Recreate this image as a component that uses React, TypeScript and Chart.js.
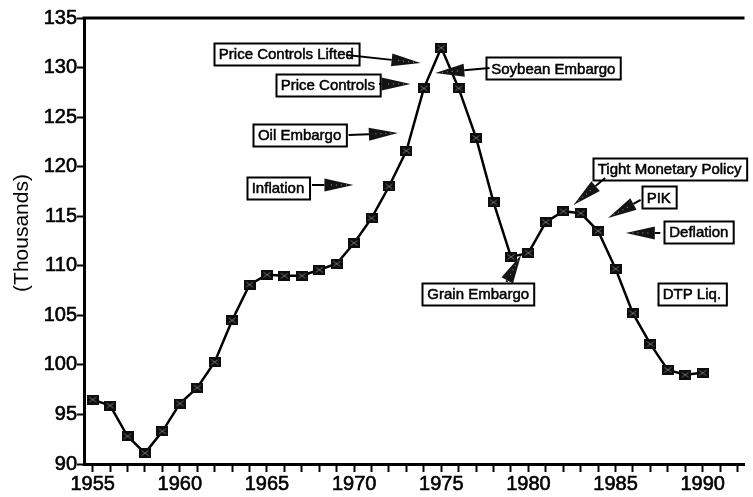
import React, { useEffect, useRef } from 'react';
import { Chart, registerables } from 'chart.js';

Chart.register(...registerables);

// ---- data ----
const years = [
  1955, 1956, 1957, 1958, 1959, 1960, 1961, 1962, 1963, 1964,
  1965, 1966, 1967, 1968, 1969, 1970, 1971, 1972, 1973, 1974,
  1975, 1976, 1977, 1978, 1979, 1980, 1981, 1982, 1983, 1984,
  1985, 1986, 1987, 1988, 1989, 1990,
];
const values = [
  96.5, 95.9, 92.8, 91.1, 93.3, 96.1, 97.7, 100.3, 104.5, 108.1,
  109.1, 109.0, 109.0, 109.6, 110.2, 112.3, 114.8, 118.0, 121.6, 127.9,
  132.0, 127.9, 122.9, 116.4, 110.9, 111.3, 114.4, 115.5, 115.3, 113.5,
  109.7, 105.2, 102.1, 99.5, 99.0, 99.2,
];
const xLabelYears = [1955, 1960, 1965, 1970, 1975, 1980, 1985, 1990];
const xFirstTick = 1955;
const xLastTick = 1992;
const yTicks = [90, 95, 100, 105, 110, 115, 120, 125, 130, 135];
const yTitle = '(Thousands)';

// annotation boxes: centre in data units, optional arrow (from -> tip) in data units
const annotations = [
  { text: 'Price Controls Lifted', x: 1966.11, y: 131.37, from: [1969.56, 131.27], to: [1973.81, 130.46] },
  { text: 'Price Controls', x: 1968.49, y: 128.24, from: [1971.43, 128.35], to: [1973.24, 128.35] },
  { text: 'Oil Embargo', x: 1966.87, y: 123.2, from: [1969.68, 123.2], to: [1972.51, 123.4] },
  { text: 'Inflation', x: 1965.63, y: 117.85, from: [1967.58, 118.15], to: [1969.96, 118.15] },
  { text: 'Soybean Embargo', x: 1981.43, y: 129.91, from: [1977.77, 129.96], to: [1974.66, 129.45] },
  { text: 'Tight Monetary Policy', x: 1988.1, y: 119.77, from: [1984.4, 118.86], to: [1982.59, 116.14] },
  { text: 'PIK', x: 1987.48, y: 116.89, from: [1986.44, 116.64], to: [1984.57, 114.82] },
  { text: 'Deflation', x: 1989.78, y: 113.41, from: [1987.57, 113.31], to: [1985.59, 113.31] },
  { text: 'Grain Embargo', x: 1977.12, y: 107.15, from: [1978.74, 108.37], to: [1979.58, 111.09] },
  { text: 'DTP Liq.', x: 1989.38, y: 107.2, from: null, to: null },
];

const FONT = '"Liberation Sans", Arial, Helvetica, sans-serif';

function makeMarker(): HTMLCanvasElement {
  const c = document.createElement('canvas');
  c.width = 12;
  c.height = 10;
  const g = c.getContext('2d')!;
  g.fillStyle = '#0d0d0d';
  g.fillRect(0, 0, 12, 10);
  g.strokeStyle = '#6e6e6e';
  g.lineWidth = 1;
  g.beginPath();
  g.moveTo(2.5, 2.5);
  g.lineTo(9.5, 7.5);
  g.moveTo(9.5, 2.5);
  g.lineTo(2.5, 7.5);
  g.stroke();
  return c;
}

function drawArrow(ctx: CanvasRenderingContext2D, x1: number, y1: number, x2: number, y2: number) {
  const dx = x2 - x1;
  const dy = y2 - y1;
  const d = Math.hypot(dx, dy) || 1;
  const ux = dx / d;
  const uy = dy / d;
  const L = Math.min(29, d);
  const hw = 6.5;
  const bx = x2 - ux * L;
  const by = y2 - uy * L;
  ctx.strokeStyle = '#000';
  ctx.lineWidth = 2;
  if (d > L + 0.5) {
    ctx.beginPath();
    ctx.moveTo(x1, y1);
    ctx.lineTo(bx, by);
    ctx.stroke();
  }
  ctx.fillStyle = '#141414';
  ctx.beginPath();
  ctx.moveTo(x2, y2);
  ctx.lineTo(bx - uy * hw, by + ux * hw);
  ctx.lineTo(bx + uy * hw, by - ux * hw);
  ctx.closePath();
  ctx.fill();
  // dotted hatch look
  ctx.fillStyle = '#9a9a9a';
  for (let t = 7; t < L - 6; t += 5) {
    const px = bx + ux * t;
    const py = by + uy * t;
    ctx.fillRect(px - 0.5, py - 0.5, 1, 1);
  }
}

const notesPlugin = {
  id: 'notes',
  afterDatasetsDraw(chart: any) {
    const { ctx, chartArea, scales } = chart;
    const xs = scales.x;
    const ys = scales.y;
    ctx.save();
    // top frame line
    ctx.strokeStyle = '#000';
    ctx.lineWidth = 3;
    ctx.beginPath();
    ctx.moveTo(chartArea.left - 1.5, chartArea.top);
    ctx.lineTo(chartArea.right, chartArea.top);
    ctx.stroke();

    // boxes
    ctx.font = '15px ' + FONT;
    ctx.textAlign = 'center';
    ctx.textBaseline = 'middle';
    const boxH = 22;
    annotations.forEach((a) => {
      const cx = xs.getPixelForValue(a.x);
      const cy = ys.getPixelForValue(a.y);
      const w = ctx.measureText(a.text).width + 10;
      const left = Math.round(cx - w / 2) + 0.5;
      const top = Math.round(cy - boxH / 2) + 0.5;
      ctx.fillStyle = '#fff';
      ctx.fillRect(left, top, w, boxH);
      ctx.strokeStyle = '#000';
      ctx.lineWidth = 2;
      ctx.strokeRect(left, top, w, boxH);
      ctx.fillStyle = '#000';
      ctx.fillText(a.text, cx, cy + 1);
      ctx.lineWidth = 0.5;
      ctx.strokeText(a.text, cx, cy + 1);
    });
    // arrows
    annotations.forEach((a) => {
      if (!a.from || !a.to) return;
      drawArrow(
        ctx,
        xs.getPixelForValue(a.from[0]),
        ys.getPixelForValue(a.from[1]),
        xs.getPixelForValue(a.to[0]),
        ys.getPixelForValue(a.to[1])
      );
    });

    // y axis title
    ctx.translate(chartArea.left - 62, (chartArea.top + chartArea.bottom) / 2 - 8);
    ctx.rotate(-Math.PI / 2);
    ctx.font = '21px ' + FONT;
    ctx.fillStyle = '#000';
    ctx.textAlign = 'center';
    ctx.textBaseline = 'middle';
    ctx.fillText(yTitle, 0, 0);
    ctx.restore();
  },
};

export default function App() {
  const ref = useRef<HTMLCanvasElement | null>(null);

  useEffect(() => {
    document.body.style.margin = '0';
    const canvas = ref.current;
    if (!canvas) return;
    const marker = makeMarker();
    const chart = new Chart(canvas, {
      type: 'line',
      data: {
        datasets: [
          {
            data: years.map((yr, i) => ({ x: yr, y: values[i] })),
            borderColor: '#000',
            borderWidth: 2.5,
            pointStyle: marker as any,
            pointRadius: 6,
            tension: 0,
            fill: false,
          },
        ],
      },
      options: {
        animation: false,
        responsive: false,
        devicePixelRatio: 1,
        layout: { padding: { top: 18, left: 0, right: 0, bottom: 0 } },
        plugins: {
          legend: { display: false },
          tooltip: { enabled: false },
          title: { display: false },
        },
        scales: {
          x: {
            type: 'linear',
            min: 1954.5,
            max: 1992.4,
            afterBuildTicks: (scale: any) => {
              const t = [];
              for (let v = xFirstTick; v <= xLastTick; v++) t.push({ value: v });
              scale.ticks = t;
            },
            afterFit: (scale: any) => {
              scale.height = 33;
            },
            border: { display: true, color: '#000', width: 3 },
            grid: {
              display: true,
              drawOnChartArea: false,
              drawTicks: true,
              tickLength: 8,
              tickColor: '#000',
              tickWidth: 2,
              color: '#000',
            },
            ticks: {
              autoSkip: false,
              maxRotation: 0,
              padding: 0,
              color: '#000',
              textStrokeColor: '#000',
              textStrokeWidth: 0.6,
              font: { family: FONT, size: 20 },
              callback: (v: any) => (xLabelYears.includes(Number(v)) ? String(v) : ''),
            },
          },
          y: {
            type: 'linear',
            min: 90,
            max: 135,
            afterBuildTicks: (scale: any) => {
              scale.ticks = yTicks.map((v) => ({ value: v }));
            },
            afterFit: (scale: any) => {
              scale.width = 84;
            },
            border: { display: true, color: '#000', width: 3 },
            grid: {
              display: true,
              drawOnChartArea: false,
              drawTicks: true,
              tickLength: 7,
              tickColor: '#000',
              tickWidth: 2,
              color: '#000',
            },
            ticks: {
              padding: 0,
              color: '#000',
              textStrokeColor: '#000',
              textStrokeWidth: 0.6,
              font: { family: FONT, size: 20 },
              callback: (v: any) => String(v),
            },
          },
        },
      },
      plugins: [notesPlugin],
    });
    return () => chart.destroy();
  }, []);

  return (
    <div style={{ width: 753, height: 497, background: '#fff' }}>
      <canvas ref={ref} width={753} height={497} style={{ display: 'block' }} />
    </div>
  );
}
